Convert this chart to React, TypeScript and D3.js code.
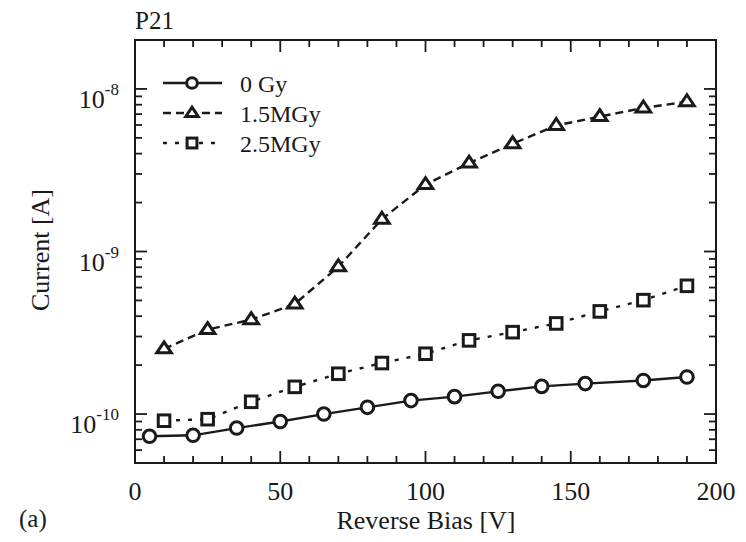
import React from 'react';
import * as d3 from 'd3';

// reverse bias [V]
const biasGy0 = [5, 20, 35, 50, 65, 80, 95, 110, 125, 140, 155, 175, 190];
const currentGy0 = [7.3e-11, 7.4e-11, 8.2e-11, 9.0e-11, 1.0e-10, 1.1e-10, 1.21e-10, 1.28e-10, 1.38e-10, 1.48e-10, 1.54e-10, 1.61e-10, 1.69e-10];

const bias15 = [10, 25, 40, 55, 70, 85, 100, 115, 130, 145, 160, 175, 190];
const current15 = [2.52e-10, 3.31e-10, 3.81e-10, 4.75e-10, 8.06e-10, 1.58e-9, 2.58e-9, 3.5e-9, 4.6e-9, 5.96e-9, 6.76e-9, 7.64e-9, 8.35e-9];

const bias25 = [10, 25, 40, 55, 70, 85, 100, 115, 130, 145, 160, 175, 190];
const current25 = [9.1e-11, 9.3e-11, 1.19e-10, 1.47e-10, 1.77e-10, 2.06e-10, 2.35e-10, 2.84e-10, 3.19e-10, 3.61e-10, 4.28e-10, 5.02e-10, 6.15e-10];

const seriesNames = ['0 Gy', '1.5MGy', '2.5MGy'];
const yDecades = [-8, -9, -10];
const xTickLabels = [0, 50, 100, 150, 200];

const W = 746;
const H = 542;
const m = { left: 135, right: 716, top: 40, bottom: 463 };
const font = '"Liberation Serif", "Times New Roman", serif';
const ink = '#1a1a1a';

export default function App() {
  const x = d3.scaleLinear().domain([0, 200]).range([m.left, m.right]);
  const y = d3.scaleLog().domain([5e-11, 2e-8]).range([m.bottom, m.top]);

  const series = [
    { name: seriesNames[0], xs: biasGy0, ys: currentGy0, dash: undefined, marker: 'circle' },
    { name: seriesNames[1], xs: bias15, ys: current15, dash: '8 5', marker: 'triangle' },
    { name: seriesNames[2], xs: bias25, ys: current25, dash: '4 8', marker: 'square' },
  ];

  const line = d3.line<[number, number]>().x(d => x(d[0])).y(d => y(d[1]));

  const marker = (kind: string, cx: number, cy: number, key: any, scale = 1) => {
    const common = { fill: 'white', stroke: ink, strokeWidth: 3 };
    if (kind === 'circle') return <circle key={key} cx={cx} cy={cy} r={6.3 * scale} {...common} />;
    if (kind === 'square') {
      const h = 5.8 * scale;
      return <rect key={key} x={cx - h} y={cy - h} width={2 * h} height={2 * h} {...common} />;
    }
    const s = 7.3 * scale;
    return <path key={key} d={`M${cx},${cy - s * 0.95}L${cx + s},${cy + s * 0.55}L${cx - s},${cy + s * 0.55}Z`} {...common} strokeLinejoin="miter" />;
  };

  // ticks
  const xMinor = d3.range(0, 201, 10);
  const yTicks: { v: number; major: boolean }[] = [];
  for (let e = -11; e <= -8; e++) {
    for (let k = 1; k <= 9; k++) {
      const v = k * Math.pow(10, e);
      if (v >= 5e-11 && v <= 2e-8) yTicks.push({ v, major: k === 1 });
    }
  }

  const legendY = [83, 113, 143];

  return (
    <svg width={W} height={H} style={{ position: 'absolute', left: 0, top: 0, background: 'white' }} fontFamily={font}>
      <rect x={0} y={0} width={W} height={H} fill="white" />
      {/* frame */}
      <rect x={m.left} y={m.top} width={m.right - m.left} height={m.bottom - m.top} fill="none" stroke={ink} strokeWidth={2} />
      {/* x ticks bottom and top */}
      {xMinor.map(v => {
        const len = v % 50 === 0 ? 12 : 7;
        return (
          <g key={'xt' + v} stroke={ink} strokeWidth={1.8}>
            <line x1={x(v)} x2={x(v)} y1={m.bottom} y2={m.bottom - len} />
            <line x1={x(v)} x2={x(v)} y1={m.top} y2={m.top + len} />
          </g>
        );
      })}
      {/* y ticks left and right */}
      {yTicks.map((t, i) => {
        const len = t.major ? 12 : 7;
        return (
          <g key={'yt' + i} stroke={ink} strokeWidth={1.8}>
            <line x1={m.left} x2={m.left + len} y1={y(t.v)} y2={y(t.v)} />
            <line x1={m.right} x2={m.right - len} y1={y(t.v)} y2={y(t.v)} />
          </g>
        );
      })}
      {/* x tick labels */}
      {xTickLabels.map(v => (
        <text key={'xl' + v} x={x(v)} y={500} fontSize={26} textAnchor="middle" fill={ink}>{v}</text>
      ))}
      {/* y tick labels */}
      {yDecades.map(e => (
        <text key={'yl' + e} x={119} y={y(Math.pow(10, e)) + 19} fontSize={26} textAnchor="end" fill={ink}>
          10<tspan dy={-13} fontSize={17}>{String(e)}</tspan>
        </text>
      ))}
      {/* axis titles */}
      <text x={426} y={529} fontSize={26} textAnchor="middle" fill={ink}>Reverse Bias [V]</text>
      <text transform={`translate(49,250) rotate(-90)`} fontSize={26} textAnchor="middle" fill={ink}>Current [A]</text>
      <text x={135} y={29} fontSize={25} fill={ink}>P21</text>
      <text x={19} y={527} fontSize={25} fill={ink}>(a)</text>
      {/* series */}
      {series.map((s, si) => {
        const pts = s.xs.map((v, i) => [v, s.ys[i]] as [number, number]);
        return (
          <g key={s.name}>
            <path d={line(pts) || ''} fill="none" stroke={ink} strokeWidth={2.4} strokeDasharray={s.dash} />
            {pts.map((p, i) => marker(s.marker, x(p[0]), y(p[1]), si + '-' + i))}
          </g>
        );
      })}
      {/* legend */}
      {series.map((s, i) => (
        <g key={'lg' + s.name}>
          <line x1={163} x2={222} y1={legendY[i]} y2={legendY[i]} stroke={ink} strokeWidth={2.4} strokeDasharray={s.dash} />
          {marker(s.marker, 192, legendY[i], 'lm' + i, 0.85)}
          <text x={240} y={legendY[i] + 9} fontSize={24} fill={ink}>{s.name}</text>
        </g>
      ))}
    </svg>
  );
}
